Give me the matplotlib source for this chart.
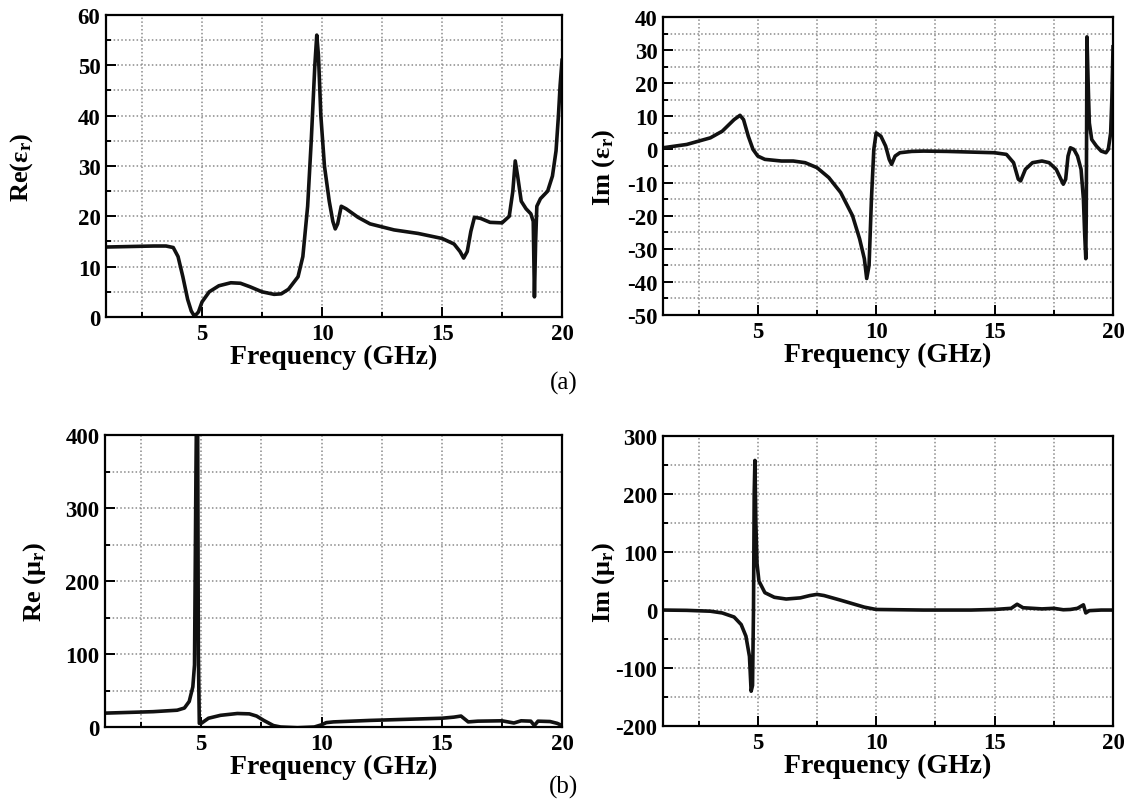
import matplotlib
matplotlib.use("Agg")
import matplotlib.pyplot as plt
from matplotlib.ticker import MultipleLocator

plt.rcParams['font.family'] = ['Liberation Serif', 'DejaVu Serif']
plt.rcParams['mathtext.default'] = 'regular'
plt.rcParams['axes.unicode_minus'] = False

# Re(eps_r) vs frequency (GHz)
re_eps_f = [1.0, 2.0, 3.0, 3.5, 3.8, 4.0, 4.2, 4.4, 4.55, 4.65, 4.72, 4.85, 5.0, 5.3, 5.7,
            6.2, 6.6, 7.0, 7.5, 8.0, 8.3, 8.6, 9.0, 9.2, 9.4, 9.55, 9.7, 9.78, 9.85,
            9.95, 10.1, 10.3, 10.45, 10.55, 10.65, 10.8, 11.0, 11.5, 12.0, 13.0, 14.0,
            15.0, 15.5, 15.75, 15.9, 16.05, 16.2, 16.35, 16.6, 17.0, 17.5, 17.8, 17.95,
            18.05, 18.15, 18.3, 18.5, 18.7, 18.8, 18.85, 18.9, 18.95, 19.1, 19.4, 19.6,
            19.75, 19.85, 19.92, 20.0]
re_eps = [13.9, 14.0, 14.1, 14.1, 13.8, 12.0, 8.0, 3.5, 1.2, 0.4, 0.3, 1.0, 3.0, 5.0, 6.2,
          6.8, 6.7, 6.0, 5.0, 4.5, 4.6, 5.5, 8.0, 12.0, 22.0, 35.0, 50.0, 56.0, 52.0,
          40.0, 30.0, 23.0, 19.0, 17.5, 18.5, 22.0, 21.5, 19.8, 18.5, 17.3, 16.6,
          15.6, 14.5, 13.0, 11.7, 13.0, 17.0, 19.8, 19.6, 18.8, 18.7, 20.0, 25.0,
          31.0, 28.0, 23.0, 21.5, 20.5, 19.0, 4.0, 15.0, 22.0, 23.5, 25.0, 28.0,
          33.0, 40.0, 46.0, 51.0]

# Im(eps_r)
im_eps_f = [1.0, 2.0, 3.0, 3.5, 4.0, 4.25, 4.4, 4.6, 4.8, 5.0, 5.3, 6.0, 6.5, 7.0, 7.5,
            8.0, 8.5, 9.0, 9.3, 9.5, 9.6, 9.7, 9.8, 9.9, 10.0, 10.2, 10.4, 10.55, 10.65,
            10.8, 11.0, 11.5, 12.0, 13.0, 14.0, 15.0, 15.5, 15.8, 16.0, 16.1, 16.3,
            16.6, 17.0, 17.3, 17.6, 17.9, 18.0, 18.1, 18.2, 18.35, 18.5, 18.65, 18.75,
            18.8, 18.85, 18.87, 18.9, 18.95, 19.0, 19.1, 19.3, 19.5, 19.7, 19.8, 19.9,
            19.95, 20.0]
im_eps = [0.5, 1.5, 3.5, 5.5, 9.0, 10.3, 9.0, 4.0, 0.0, -2.0, -3.0, -3.5, -3.5, -4.0, -5.5,
          -8.5, -13.0, -20.0, -27.0, -33.0, -39.0, -35.0, -15.0, 0.0, 5.0, 4.0, 1.0, -3.0, -4.5,
          -2.0, -1.0, -0.6, -0.5, -0.6, -0.8, -1.0, -1.5, -4.0, -9.0, -9.5, -6.0,
          -4.0, -3.5, -4.0, -6.0, -10.5, -9.0, -2.0, 0.5, 0.0, -2.0, -6.0, -15.0,
          -25.0, -33.0, -20.0, 34.0, 20.0, 8.0, 3.0, 1.0, -0.5, -1.0, 0.0, 5.0,
          15.0, 31.0]

# Re(mu_r)
re_mu_f = [1.0, 2.0, 3.0, 4.0, 4.3, 4.5, 4.65, 4.72, 4.78, 4.8, 4.85, 4.88, 4.92, 5.0, 5.3,
           5.8, 6.5, 7.0, 7.3, 7.6, 8.0, 8.3, 9.0, 9.7, 10.0, 10.2, 10.5, 12.0, 14.0,
           15.0, 15.5, 15.8, 16.1, 16.5, 17.5, 18.0, 18.3, 18.7, 18.85, 19.0, 19.5,
           19.8, 20.0]
re_mu = [19.0, 20.0, 21.0, 23.0, 26.0, 35.0, 55.0, 85.0, 350.0, 420.0, 420.0, 100.0, 5.0, 5.0, 12.0,
         16.0, 18.5, 18.0, 15.0, 9.0, 2.0, 0.0, -1.0, 0.0, 3.0, 6.0, 7.0, 9.0, 11.0,
         12.0, 13.5, 15.0, 7.0, 8.0, 8.5, 5.5, 8.5, 8.0, 2.0, 8.0, 7.5,
         5.0, 2.0]

# Im(mu_r)
im_mu_f = [1.0, 2.0, 3.0, 3.5, 4.0, 4.3, 4.5, 4.65, 4.72, 4.78, 4.82, 4.85, 4.88, 4.92, 4.97,
           5.05, 5.3, 5.7, 6.2, 6.8, 7.2, 7.5, 7.8, 8.5, 9.0, 9.5, 10.0, 11.0, 12.0,
           14.0, 15.0, 15.7, 15.95, 16.2, 17.0, 17.5, 17.9, 18.2, 18.5, 18.75, 18.85,
           19.0, 19.5, 20.0]
im_mu = [0.0, -0.5, -2.0, -5.0, -12.0, -25.0, -45.0, -80.0, -140.0, -130.0, 0.0, 200.0, 258.0, 150.0, 80.0,
         50.0, 30.0, 22.0, 19.0, 21.0, 25.0, 27.0, 25.0, 17.0, 11.0, 5.0, 1.0, 0.5, 0.0,
         0.0, 1.0, 3.0, 10.0, 4.0, 2.0, 3.0, 0.5, 1.0, 3.0, 9.0, -5.0,
         -1.0, 0.0, 0.0]

fig = plt.figure(figsize=(11.27, 8.03), dpi=100)

panels = [
    # rect, x, y, ylabel, ylim, major, minor, ylabel x (axes fraction)
    ([0.0941, 0.6040, 0.4046, 0.3761], re_eps_f, re_eps, 'Re(ε$_{r}$)', (0, 60), 10, 5, -0.155),
    ([0.5883, 0.6065, 0.3993, 0.3711], im_eps_f, im_eps, 'Im (ε$_{r}$)', (-50, 40), 10, 5, -0.102),
    ([0.0932, 0.0934, 0.4055, 0.3636], re_mu_f, re_mu, 'Re (μ$_{r}$)', (0, 400), 100, 50, -0.125),
    ([0.5883, 0.0946, 0.3993, 0.3611], im_mu_f, im_mu, 'Im (μ$_{r}$)', (-200, 300), 100, 50, -0.102),
]

for rect, xs, ys, ylab, ylim, major, minor, ylx in panels:
    ax = fig.add_axes(rect)
    ax.plot(xs, ys, color='#111111', lw=2.6, solid_joinstyle='round')
    ax.set_xlim(1, 20)
    ax.set_ylim(*ylim)
    ax.xaxis.set_major_locator(MultipleLocator(5))
    ax.xaxis.set_minor_locator(MultipleLocator(2.5))
    ax.yaxis.set_major_locator(MultipleLocator(major))
    ax.yaxis.set_minor_locator(MultipleLocator(minor))
    ax.grid(True, which='both', color='#8a8a8a', linestyle=(0, (1, 1.5)), lw=1.1)
    ax.set_axisbelow(True)
    ax.tick_params(which='both', direction='in', top=False, right=False, width=1.4)
    ax.tick_params(which='major', length=7, labelsize=16.5, pad=4)
    ax.tick_params(which='minor', length=3.5)
    for lab in ax.get_xticklabels() + ax.get_yticklabels():
        lab.set_fontweight('bold')
    for sp in ax.spines.values():
        sp.set_linewidth(1.6)
    ax.set_xlabel('Frequency (GHz)', fontsize=20, fontweight='bold', labelpad=0)
    ax.set_ylabel(ylab, fontsize=19, fontweight='bold')
    ax.yaxis.set_label_coords(ylx, 0.5)

fig.text(0.5, 1 - 383 / 803, '(a)', ha='center', va='center', fontsize=18)
fig.text(0.5, 1 - 787 / 803, '(b)', ha='center', va='center', fontsize=18)

fig.savefig('out.png', dpi=100)
